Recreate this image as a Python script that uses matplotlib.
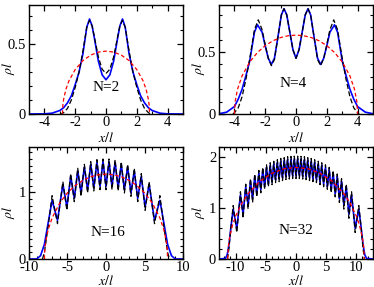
import matplotlib
matplotlib.use("Agg")
import matplotlib.pyplot as plt
import numpy as np
from matplotlib.ticker import MultipleLocator, FormatStrFormatter

plt.rcParams['font.family'] = ['Liberation Serif', 'DejaVu Serif']
plt.rcParams['mathtext.fontset'] = 'stix'
plt.rcParams['axes.unicode_minus'] = False

# ---- data (right half, x >= 0; curves are symmetric) ----
# N=2
x2 = [0, 0.25, 0.5, 0.75, 0.9, 1.07, 1.25, 1.5, 1.75, 2.0, 2.25, 2.5, 2.75, 3.0, 3.5, 4.0, 5.0]
blue2 = [0.245, 0.28, 0.38, 0.54, 0.63, 0.68, 0.62, 0.43, 0.30, 0.21, 0.13, 0.08, 0.045, 0.025, 0.006, 0.001, 0.0]
xk2 = [0, 0.25, 0.5, 0.75, 0.9, 1.07, 1.25, 1.5, 1.75, 2.0, 2.25, 2.5, 2.75, 2.9, 3.0]
black2 = [0.29, 0.32, 0.41, 0.55, 0.63, 0.67, 0.62, 0.45, 0.30, 0.19, 0.10, 0.04, 0.01, 0.0, 0.0]
xr2 = [0, 0.5, 1.0, 1.5, 2.0, 2.4, 2.6, 2.75, 2.8, 2.83]
red2 = [0.45, 0.443, 0.421, 0.382, 0.318, 0.239, 0.178, 0.106, 0.065, 0.0]

# N=4
x4 = [0, 0.2, 0.4, 0.6, 0.78, 0.95, 1.2, 1.4, 1.6, 1.8, 2.0, 2.2, 2.5, 2.7, 3.0, 3.25, 3.5, 3.75, 4.0, 4.5, 5.0]
blue4 = [0.45, 0.52, 0.66, 0.80, 0.85, 0.80, 0.60, 0.45, 0.40, 0.45, 0.55, 0.66, 0.72, 0.66, 0.43, 0.31, 0.20, 0.12, 0.06, 0.015, 0.002]
xk4 = [0, 0.2, 0.4, 0.6, 0.78, 0.95, 1.2, 1.4, 1.6, 1.8, 2.0, 2.2, 2.45, 2.7, 3.0, 3.25, 3.5, 3.75, 4.0, 4.1]
black4 = [0.45, 0.52, 0.66, 0.80, 0.85, 0.80, 0.60, 0.44, 0.39, 0.45, 0.56, 0.68, 0.76, 0.68, 0.45, 0.28, 0.14, 0.05, 0.01, 0.0]
xr4 = [0, 0.5, 1.0, 1.5, 2.0, 2.5, 3.0, 3.5, 3.8, 3.95, 4.0]
red4 = [0.637, 0.632, 0.617, 0.591, 0.552, 0.497, 0.421, 0.308, 0.199, 0.101, 0.0]

# N=16: trough / peak positions and heights
t16_x = [0, 0.78, 1.58, 2.39, 3.24, 4.12, 5.08, 6.3]
p16_x = [0.39, 1.18, 1.98, 2.81, 3.67, 4.58, 5.60, 7.0]
t16_blue = [1.09, 1.09, 1.07, 1.04, 0.99, 0.91, 0.78, 0.58]
p16_blue = [1.46, 1.45, 1.42, 1.38, 1.32, 1.24, 1.12, 0.88]
t16_black = [1.04, 1.04, 1.02, 0.99, 0.94, 0.86, 0.73, 0.53]
p16_black = [1.50, 1.49, 1.46, 1.42, 1.36, 1.28, 1.16, 0.95]
edge16_x = [7.5, 8.0, 8.5, 9.0, 10.0]
edge16_blue = [0.55, 0.22, 0.05, 0.0, 0.0]
edgek16_x = [7.5, 8.0, 8.25]
edgek16_black = [0.50, 0.10, 0.0]
xr16 = [0, 1, 2, 3, 4, 5, 6, 7, 7.5, 7.8, 7.95, 8.0]
red16 = [1.273, 1.263, 1.233, 1.180, 1.102, 0.994, 0.842, 0.616, 0.443, 0.283, 0.142, 0.0]

# N=32
t32_x = [0, 0.555, 1.11, 1.67, 2.235, 2.805, 3.385, 3.975, 4.575, 5.19, 5.825, 6.49, 7.185, 7.93, 8.76, 9.8]
p32_x = [0.28, 0.83, 1.39, 1.95, 2.52, 3.09, 3.68, 4.27, 4.88, 5.50, 6.15, 6.83, 7.54, 8.32, 9.20, 10.4]
t32_blue = [1.63, 1.63, 1.62, 1.61, 1.59, 1.57, 1.55, 1.51, 1.47, 1.42, 1.36, 1.28, 1.18, 1.06, 0.88, 0.60]
p32_blue = [1.97, 1.965, 1.956, 1.943, 1.925, 1.90, 1.87, 1.84, 1.80, 1.75, 1.69, 1.62, 1.53, 1.42, 1.26, 0.98]
t32_black = [1.58, 1.58, 1.57, 1.56, 1.54, 1.52, 1.50, 1.46, 1.42, 1.37, 1.30, 1.22, 1.11, 0.98, 0.80, 0.52]
p32_black = [2.02, 2.015, 2.01, 1.99, 1.975, 1.95, 1.92, 1.89, 1.85, 1.80, 1.74, 1.67, 1.58, 1.47, 1.32, 1.05]
edge32_x = [10.8, 11.1, 11.4, 11.7, 12.75]
edge32_blue = [0.60, 0.28, 0.08, 0.01, 0.0]
edgek32_x = [10.8, 11.1, 11.35]
edgek32_black = [0.60, 0.20, 0.0]
xr32 = [0, 2, 4, 6, 8, 9, 10, 10.5, 11, 11.2, 11.31]
red32 = [1.80, 1.772, 1.683, 1.526, 1.273, 1.089, 0.841, 0.670, 0.418, 0.251, 0.0]


def mirror(x, y):
    x = np.asarray(x, float)
    y = np.asarray(y, float)
    return np.concatenate([-x[:0:-1], x]), np.concatenate([y[:0:-1], y])


def zigzag(tx, px, ty, py, ex, ey):
    xs = np.empty(len(tx) + len(px))
    ys = np.empty(len(tx) + len(px))
    xs[0::2], xs[1::2] = tx, px
    ys[0::2], ys[1::2] = ty, py
    return np.concatenate([xs, ex]), np.concatenate([ys, ey])


fig = plt.figure(figsize=(3.74, 2.87), dpi=100)
W, H = 374.0, 287.0


def make_ax(l, r, t, b):
    return fig.add_axes([l / W, 1 - b / H, (r - l) / W, (b - t) / H])


def style(ax, xlim, ylim, xmaj, xmin, ymaj, ymin, xlab_y):
    ax.set_xlim(*xlim)
    ax.set_ylim(*ylim)
    ax.xaxis.set_major_locator(MultipleLocator(xmaj))
    ax.xaxis.set_minor_locator(MultipleLocator(xmin))
    ax.yaxis.set_major_locator(MultipleLocator(ymaj))
    ax.yaxis.set_minor_locator(MultipleLocator(ymin))
    ax.yaxis.set_major_formatter(FormatStrFormatter('%g'))
    ax.xaxis.set_major_formatter(FormatStrFormatter('%g'))
    ax.tick_params(which='both', direction='in', top=True, right=True, labelsize=10.5, pad=2)
    ax.tick_params(axis='x', pad=1.5)
    ax.tick_params(which='major', length=4, width=0.9)
    ax.tick_params(which='minor', length=2, width=0.8)
    for s in ax.spines.values():
        s.set_linewidth(1.0)
    ax.set_xlabel(r'$x/l$', fontsize=10)
    ax.set_ylabel(r'$\rho l$', fontsize=10)
    ax.xaxis.set_label_coords(0.5, xlab_y)
    ax.yaxis.set_label_coords(-0.075, 0.42)


def draw(ax, xb, yb, xk, yk, xr, yr, label, lx, ly):
    ax.plot(*mirror(xb, yb), color='#0000ff', lw=1.2)
    ax.plot(*mirror(xk, yk), color='black', lw=0.9, dashes=(4, 2))
    ax.plot(*mirror(xr, yr), color='#ff0000', lw=0.9, dashes=(3, 2))
    ax.text(lx, ly, label, ha='center', va='center', fontsize=11)


ax1 = make_ax(29, 183, 5, 114)
draw(ax1, x2, blue2, xk2, black2, xr2, red2, 'N=2', 0, 0.19)
style(ax1, (-5, 5), (0, 0.78), 2, 1, 0.5, 0.1, -0.155)

ax2 = make_ax(219, 373, 5, 114)
draw(ax2, x4, blue4, xk4, black4, xr4, red4, 'N=4', -0.2, 0.25)
style(ax2, (-5, 5), (0, 0.88), 2, 1, 0.5, 0.1, -0.155)

ax3 = make_ax(29, 183, 147, 259)
xb16, yb16 = zigzag(t16_x, p16_x, t16_blue, p16_blue, edge16_x, edge16_blue)
xk16, yk16 = zigzag(t16_x, p16_x, t16_black, p16_black, edgek16_x, edgek16_black)
draw(ax3, xb16, yb16, xk16, yk16, xr16, red16, 'N=16', 0.2, 0.39)
style(ax3, (-10, 10), (0, 1.68), 5, 1, 1, 0.1, -0.137)

ax4 = make_ax(219, 373, 147, 259)
xb32, yb32 = zigzag(t32_x, p32_x, t32_blue, p32_blue, edge32_x, edge32_blue)
xk32, yk32 = zigzag(t32_x, p32_x, t32_black, p32_black, edgek32_x, edgek32_black)
draw(ax4, xb32, yb32, xk32, yk32, xr32, red32, 'N=32', 0, 0.55)
style(ax4, (-12.75, 12.75), (0, 2.2), 5, 1, 1, 0.2, -0.137)

fig.savefig('out.png', dpi=100)
